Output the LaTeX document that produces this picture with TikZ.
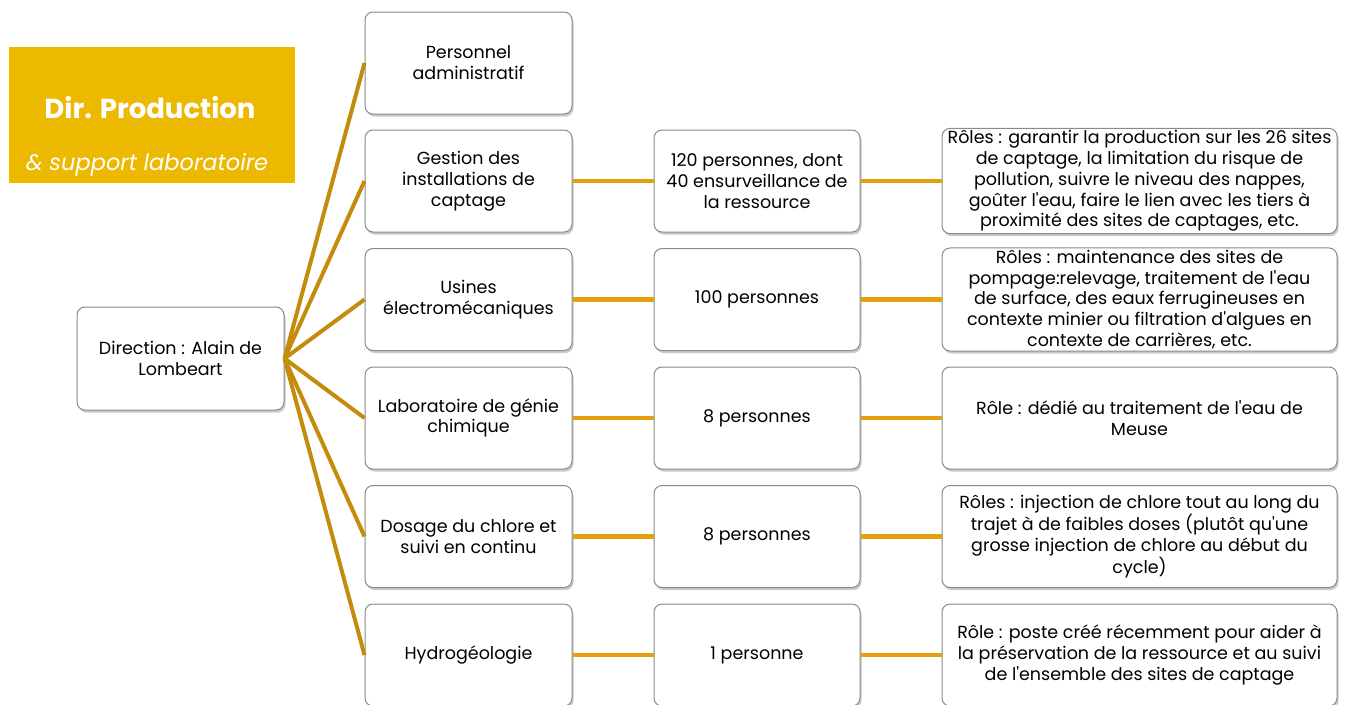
\documentclass[tikz,border=0pt]{standalone}
\usepackage{fontspec}
\setmainfont{Poppins}[Ligatures=TeXOff]
\usetikzlibrary{shadows}
\definecolor{titlegold}{HTML}{EDB800}
\definecolor{rootline}{HTML}{C48C0C}
\definecolor{rowline}{HTML}{E4A00E}
\definecolor{boxborder}{HTML}{8A8A8A}
\tikzset{
  box/.style={draw=boxborder, line width=1pt, fill=white, rounded corners=8pt,
    align=center, inner sep=2pt, font=\fontsize{17.5}{20.8}\selectfont,
    drop shadow={shadow xshift=1.5pt, shadow yshift=-2.5pt, opacity=0.35, fill=black!60}},
  lvl/.style={box, minimum width=207pt, minimum height=102pt},
  big/.style={box, minimum width=395pt, minimum height=102pt},
  rootedge/.style={draw=rootline, line width=4pt},
  rowedge/.style={draw=rowline, line width=4.5pt},
}
\begin{document}
\begin{tikzpicture}[x=1pt,y=-1pt]
\useasboundingbox (0,0) rectangle (1346,704);
% title
\node[fill=titlegold, minimum width=286pt, minimum height=136pt, inner sep=0pt] (title) at (152,115) {};
\node[text=white, font=\bfseries\fontsize{27.5}{30}\selectfont] (titleA) at (150,108) {Dir. Production};
\node[text=white, font=\itshape\fontsize{22.5}{25}\selectfont] (titleB) at (147,165) {\& support laboratoire};
% root
\node[lvl, minimum height=103pt] (root) at (180.5,358.5) {Direction : Alain de\\Lombeart};
% level 1
\node[lvl] (a1) at (468.5,63) {Personnel\\administratif};
\node[lvl] (a2) at (468.5,181) {Gestion des\\installations de\\captage};
\node[lvl] (a3) at (468.5,299.5) {Usines\\électromécaniques};
\node[lvl] (a4) at (468.5,418) {Laboratoire de génie\\chimique};
\node[lvl] (a5) at (468.5,536.5) {Dosage du chlore et\\suivi en continu};
\node[lvl] (a6) at (468.5,655) {Hydrogéologie};
% level 2
\node[lvl, minimum width=206pt] (b2) at (757,181) {120 personnes, dont\\40 ensurveillance de\\la ressource};
\node[lvl, minimum width=206pt] (b3) at (757,299.5) {100 personnes};
\node[lvl, minimum width=206pt] (b4) at (757,418) {8 personnes};
\node[lvl, minimum width=206pt] (b5) at (757,536.5) {8 personnes};
\node[lvl, minimum width=206pt] (b6) at (757,655) {1 personne};
% level 3
\node[big] (c2) at (1139.5,181) {Rôles : garantir la production sur les 26 sites\\de captage, la limitation du risque de\\pollution, suivre le niveau des nappes,\\goûter l'eau, faire le lien avec les tiers à\\proximité des sites de captages, etc.};
\node[big] (c3) at (1139.5,299.5) {Rôles : maintenance des sites de\\pompage:relevage, traitement de l'eau\\de surface, des eaux ferrugineuses en\\contexte minier ou filtration d'algues en\\contexte de carrières, etc.};
\node[big] (c4) at (1139.5,418) {Rôle : dédié au traitement de l'eau de\\Meuse};
\node[big] (c5) at (1139.5,536.5) {Rôles : injection de chlore tout au long du\\trajet à de faibles doses (plutôt qu'une\\grosse injection de chlore au début du\\cycle)};
\node[big] (c6) at (1139.5,655) {Rôle : poste créé récemment pour aider à\\la préservation de la ressource et au suivi\\de l'ensemble des sites de captage};
% connectors
\foreach \n in {a1,a2,a3,a4,a5,a6}{
  \path[rootedge] (root.east) -- (\n.west);
}
\foreach \i in {2,3,4,5,6}{
  \path[rowedge] (a\i.east) -- (b\i.west);
  \path[rowedge] (b\i.east) -- (c\i.west);
}
\end{tikzpicture}
\end{document}
